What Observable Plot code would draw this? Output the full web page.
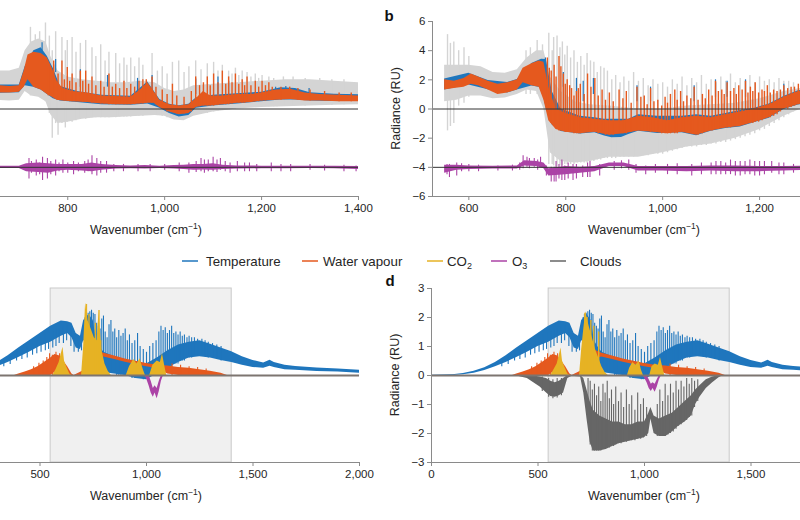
<!DOCTYPE html>
<html>
<head>
<meta charset="utf-8">
<script src="https://cdn.jsdelivr.net/npm/d3@7"></script>
<script src="https://cdn.jsdelivr.net/npm/@observablehq/plot@0.6"></script>
<style>
  html, body { margin: 0; padding: 0; background: #fff; overflow: hidden; }
  #root { position: relative; width: 800px; height: 520px; overflow: hidden; font-family: "Liberation Sans", Arial, sans-serif; }
  .panel { position: absolute; }
  .panel svg { max-width: none !important; background: transparent !important; overflow: visible; }
  g[aria-label$="axis tick"] { stroke: #8a8a8a; }
  .tick line { stroke: #8a8a8a; }
</style>
</head>
<body>
<div id="root"></div>
<script>
// ===================== DATA =====================
// Panels a & b : radiance difference spectra (RU)
const xTicksA = [800, 1000, 1200, 1400];
const xTicksB = [600, 800, 1000, 1200];
const yTicksAB = [-6, -4, -2, 0, 2, 4, 6];
const xDomainAB = [525, 1400];
const yDomainAB = [-6, 6];
const refLinesAB = [0, -4];

// [wavenumber, low, high]
const aSpread = [[655,0.6,2.6],[680,0.55,2.6],[700,0.6,2.8],[712,1.2,4.0],[725,0.9,4.6],[740,0.8,4.8],[755,0.5,4.6],[765,-0.4,3.6],[780,-1.0,2.6],[800,-0.9,2.2],[830,-0.7,2.0],[860,-0.6,1.9],[890,-0.6,1.8],[920,-0.55,1.8],[950,-0.5,1.9],[980,-0.45,1.8],[1000,-0.5,1.4],[1020,-0.75,1.2],[1040,-0.8,1.3],[1060,-0.5,1.6],[1100,-0.2,1.7],[1150,0.0,1.8],[1200,0.1,1.9],[1250,0.15,2.0],[1300,0.2,2.0],[1350,0.25,1.9],[1400,0.3,1.8]];
const aSpreadSpikes = [[723,0.9,5.6],[733,0.9,5.1],[742,0.8,5.3],[754,0.5,5.9],[762,-0.3,5.0],[768,-2.0,4.0],[775,-1.0,5.3],[780,-1.8,2.0],[788,-1.0,4.9],[795,-1.3,4.0],[799,-0.9,4.7],[809,-0.9,4.9],[817,-0.8,3.9],[826,-0.7,4.5],[837,-0.7,4.7],[850,-0.6,4.2],[858,-0.6,3.6],[868,-0.6,4.4],[877,-0.6,3.3],[885,-0.6,3.9],[899,-0.6,3.8],[907,-0.55,3.1],[916,-0.55,3.5],[922,-0.55,3.0],[930,-0.55,3.5],[938,-0.5,2.9],[947,-0.5,3.5],[955,-0.5,3.0],[974,-0.45,3.8],[985,-0.45,2.6],[995,-0.5,2.9],[1005,-0.6,2.4],[1016,-0.7,3.2],[1029,-0.7,3.3],[1040,-0.7,2.5],[1050,-0.6,2.9],[1064,-0.4,3.3],[1075,-0.35,2.7],[1088,-0.3,3.1],[1101,-0.2,3.2],[1110,-0.15,2.6],[1119,-0.1,3.0],[1132,0.0,2.6],[1139,0.0,2.4],[1146,0.0,2.8],[1153,0.05,2.3],[1160,0.1,2.6],[1170,0.1,2.5],[1178,0.1,2.2],[1187,0.15,2.4],[1194,0.15,2.1],[1201,0.15,2.3],[1215,0.15,2.2],[1225,0.15,2.1],[1232,0.15,1.9],[1245,0.2,2.2],[1265,0.2,2.2],[1290,0.2,2.1],[1320,0.25,2.1],[1345,0.25,2.0],[1370,0.3,2.0]];
const aTemp = [[655,1.08,1.65],[700,1.12,1.65],[712,1.6,2.9],[730,1.5,4.0],[745,1.3,4.2],[758,1.0,3.6],[770,0.7,2.8],[785,0.55,1.55],[820,0.45,1.2],[870,0.3,0.95],[930,0.25,0.88],[965,0.35,1.85],[990,0.05,0.65],[1010,-0.3,0.32],[1030,-0.55,0.22],[1050,-0.45,0.32],[1065,0.05,0.75],[1100,0.2,0.95],[1150,0.35,1.05],[1200,0.5,1.15],[1240,0.62,1.45],[1270,0.62,1.4],[1300,0.55,1.12],[1350,0.52,1.02],[1400,0.52,0.97]];
const aTempSpikes = [[747,3.5,4.55],[775,2.5,3.4],[826,1.5,2.7],[882,1.5,2.3],[944,1.0,2.1],[974,1.0,2.3],[1064,1.0,2.05],[1110,1.0,2.2],[1132,1.0,1.9],[1229,1.0,1.5],[1250,1.0,1.55],[1298,1.0,1.4]];
const aWater = [[655,1.1,1.6],[680,1.1,1.55],[700,1.15,1.6],[710,1.5,2.6],[718,2.0,3.7],[730,1.5,3.9],[745,1.3,3.8],[758,1.0,3.5],[768,0.8,2.8],[778,0.6,1.9],[790,0.55,1.4],[810,0.5,1.2],[840,0.45,1.1],[870,0.35,0.9],[900,0.3,0.85],[930,0.3,0.8],[950,0.35,1.3],[965,0.4,1.8],[978,0.4,1.2],[990,0.1,0.6],[1010,-0.2,0.3],[1030,-0.4,0.2],[1050,-0.3,0.3],[1065,0.1,0.7],[1080,0.2,1.2],[1095,0.2,0.9],[1120,0.3,0.9],[1150,0.4,1.0],[1180,0.45,1.0],[1200,0.55,1.1],[1230,0.6,1.3],[1260,0.65,1.35],[1290,0.55,1.1],[1320,0.55,1.0],[1360,0.5,0.95],[1400,0.5,0.9]];
const aWaterSpikes = [[760,0.9,3.0],[771,0.8,3.3],[780,0.6,2.4],[788,0.6,3.3],[793,0.55,2.0],[799,0.55,2.85],[804,0.5,1.9],[809,0.5,2.4],[817,0.5,1.8],[826,0.5,2.6],[831,0.45,1.9],[837,0.45,2.6],[843,0.45,1.7],[850,0.4,2.2],[858,0.4,1.6],[868,0.35,1.9],[875,0.35,1.5],[885,0.3,2.4],[892,0.3,1.5],[899,0.3,1.7],[907,0.3,1.4],[916,0.3,1.9],[922,0.3,1.4],[930,0.3,1.7],[938,0.3,1.5],[947,0.35,1.9],[955,0.35,2.0],[962,0.4,2.0],[974,0.4,2.2],[982,0.3,1.5],[995,0.0,1.3],[1005,-0.2,1.0],[1016,-0.2,1.7],[1025,-0.35,0.9],[1040,-0.35,0.8],[1055,-0.2,1.2],[1064,0.1,2.2],[1072,0.15,1.6],[1080,0.2,1.8],[1088,0.2,2.2],[1094,0.2,1.6],[1101,0.2,2.4],[1110,0.25,1.8],[1119,0.3,2.6],[1126,0.3,1.7],[1132,0.3,2.2],[1139,0.35,1.8],[1146,0.4,2.4],[1153,0.4,1.7],[1160,0.4,2.0],[1165,0.4,1.6],[1170,0.45,2.2],[1178,0.45,1.6],[1187,0.5,1.9],[1194,0.5,1.5],[1201,0.55,1.9],[1208,0.55,1.6],[1215,0.6,1.8],[1222,0.6,1.5],[1240,0.6,1.5],[1258,0.65,1.5],[1275,0.6,1.4],[1300,0.55,1.3],[1330,0.55,1.2],[1360,0.5,1.1],[1385,0.5,1.1]];
const aO3 = [[655,-4.08,-3.92],[700,-4.08,-3.92],[715,-4.3,-3.75],[740,-4.35,-3.7],[760,-4.4,-3.75],[780,-4.25,-3.8],[800,-4.2,-3.8],[830,-4.25,-3.8],[850,-4.3,-3.7],[870,-4.2,-3.8],[900,-4.12,-3.88],[930,-4.1,-3.9],[960,-4.12,-3.88],[990,-4.08,-3.92],[1020,-4.12,-3.88],[1040,-4.15,-3.85],[1060,-4.2,-3.8],[1080,-4.18,-3.8],[1100,-4.2,-3.75],[1120,-4.15,-3.85],[1150,-4.12,-3.9],[1200,-4.1,-3.92],[1250,-4.1,-3.92],[1300,-4.08,-3.92],[1350,-4.1,-3.92],[1400,-4.15,-3.95]];
const aO3Spikes = [[720,-4.8,-3.4],[725,-4.4,-3.6],[735,-4.6,-3.5],[742,-4.5,-3.7],[748,-4.9,-3.3],[758,-4.8,-3.4],[765,-4.5,-3.6],[775,-4.6,-3.5],[782,-4.3,-3.7],[790,-4.4,-3.5],[800,-4.4,-3.7],[812,-4.5,-3.6],[822,-4.3,-3.7],[835,-4.4,-3.6],[842,-4.3,-3.5],[850,-4.5,-3.2],[860,-4.6,-3.4],[868,-4.4,-3.6],[880,-4.4,-3.6],[895,-4.3,-3.8],[915,-4.3,-3.8],[945,-4.3,-3.8],[970,-4.3,-3.8],[1000,-4.2,-3.8],[1030,-4.3,-3.7],[1050,-4.4,-3.7],[1065,-4.35,-3.6],[1075,-4.3,-3.4],[1082,-4.4,-3.5],[1090,-4.3,-3.5],[1100,-4.3,-3.3],[1108,-4.35,-3.5],[1115,-4.2,-3.4],[1125,-4.3,-3.6],[1135,-4.4,-3.7],[1150,-4.3,-3.6],[1165,-4.3,-3.7],[1175,-4.3,-3.7],[1190,-4.3,-3.8],[1220,-4.3,-3.7],[1240,-4.3,-3.8],[1260,-4.3,-3.8],[1300,-4.2,-3.8],[1330,-4.25,-3.85],[1370,-4.3,-3.85],[1395,-4.3,-3.9]];

const bSpread = [[550,0.5,3.0],[575,0.6,3.0],[600,0.9,3.0],[625,0.9,2.9],[650,0.7,2.5],[675,0.75,2.45],[700,1.0,2.7],[720,1.3,3.5],[740,1.2,4.0],[755,0.0,4.0],[768,-3.0,2.2],[790,-3.6,1.2],[820,-3.7,0.5],[850,-3.6,0.3],[890,-3.3,0.2],[950,-3.3,0.0],[1000,-3.0,0.0],[1050,-2.6,0.2],[1100,-2.4,0.3],[1150,-2.0,0.4],[1200,-1.4,0.7],[1250,-0.5,1.2],[1300,0.2,1.5],[1350,0.3,1.6],[1400,0.3,1.6]];
const bSpreadSpikes = [[556,-1.5,5.1],[562,-1.2,4.5],[569,-1.0,4.6],[579,0.2,4.0],[590,0.4,4.2],[600,0.8,3.6],[718,1.0,4.0],[727,1.0,4.2],[741,1.0,4.7],[752,0.5,4.4],[765,-3.8,5.2],[772,-3.8,4.0],[775,-3.9,4.9],[782,-4.0,5.0],[788,-3.9,4.2],[793,-3.9,4.6],[798,-3.8,3.7],[803,-3.8,4.3],[810,-3.8,3.5],[817,-3.8,4.0],[824,-3.7,3.2],[831,-3.7,3.6],[838,-3.7,3.0],[844,-3.7,3.8],[851,-3.6,3.3],[858,-3.6,3.2],[865,-3.5,2.5],[872,-3.5,2.9],[879,-3.4,2.8],[886,-3.4,2.6],[895,-3.4,2.0],[903,-3.4,2.3],[912,-3.3,1.8],[920,-3.3,2.2],[930,-3.3,1.9],[940,-3.3,2.5],[950,-3.2,1.9],[960,-3.2,2.1],[970,-3.2,1.6],[980,-3.1,2.0],[990,-3.1,1.7],[1000,-3.1,1.8],[1010,-3.0,1.5],[1020,-2.9,2.0],[1030,-2.8,1.7],[1040,-2.7,2.2],[1050,-2.6,1.6],[1060,-2.6,2.1],[1070,-2.6,1.8],[1080,-2.5,2.3],[1090,-2.5,1.7],[1100,-2.4,2.0],[1110,-2.4,1.8],[1120,-2.3,2.2],[1130,-2.3,1.9],[1140,-2.2,2.4],[1150,-2.1,1.8],[1160,-2.0,2.1],[1170,-1.9,1.9],[1180,-1.8,2.3],[1190,-1.7,1.8],[1200,-1.5,2.2],[1210,-1.4,1.9],[1220,-1.2,2.0],[1230,-1.0,1.8],[1240,-0.8,2.1],[1250,-0.6,1.9],[1260,-0.4,1.9],[1270,-0.2,1.8],[1285,0.0,2.0]];
const bTemp = [[550,1.3,2.05],[600,1.65,2.45],[640,1.32,1.95],[680,1.1,1.82],[700,1.3,2.02],[730,1.58,3.12],[750,1.45,3.42],[760,0.0,3.4],[772,-1.1,1.2],[790,-1.55,0.0],[830,-1.72,-0.5],[860,-1.63,-0.6],[880,-1.85,-0.7],[895,-1.97,-0.7],[915,-1.95,-0.7],[930,-1.75,-0.7],[950,-1.53,-0.4],[990,-1.68,-0.5],[1040,-1.63,-0.5],[1070,-1.83,-0.4],[1100,-1.53,-0.5],[1130,-1.33,-0.3],[1160,-1.23,-0.1],[1190,-0.93,0.05],[1220,-0.63,0.35],[1250,-0.03,0.85],[1280,0.27,1.25],[1300,0.37,1.35],[1400,0.47,1.35]];
const bTempSpikes = [[758,2.0,3.5],[795,1.5,2.5],[822,0.5,2.1],[836,0.5,1.9],[857,1.0,2.1],[947,0.5,1.6],[975,0.5,1.5],[1065,0.5,1.6],[1109,0.8,2.0],[1133,0.8,1.9],[1171,0.8,2.0],[1250,0.5,1.7]];
const bWater = [[550,1.3,2.0],[570,1.4,1.9],[590,1.5,2.1],[605,1.7,2.4],[620,1.6,2.2],[640,1.3,1.9],[660,1.0,1.7],[680,1.1,1.8],[700,1.3,2.0],[712,1.8,2.8],[730,1.6,3.1],[745,1.5,3.3],[755,0.6,3.2],[765,-0.8,1.5],[780,-1.4,0.0],[800,-1.6,-0.3],[830,-1.7,-0.6],[860,-1.6,-0.7],[890,-1.8,-0.8],[920,-1.7,-0.8],[950,-1.5,-0.5],[980,-1.6,-0.6],[1010,-1.7,-0.8],[1040,-1.6,-0.6],[1070,-1.8,-0.5],[1100,-1.5,-0.6],[1130,-1.3,-0.4],[1160,-1.2,-0.2],[1190,-0.9,0.0],[1220,-0.6,0.3],[1250,0.0,0.8],[1280,0.3,1.2],[1300,0.4,1.3],[1400,0.5,1.3]];
const bWaterSpikes = [[762,0.0,3.5],[766,-0.5,2.8],[770,-1.0,2.6],[776,-1.2,3.0],[780,-1.3,2.2],[786,-1.5,3.6],[790,-1.5,2.9],[795,-1.5,2.4],[799,-1.6,1.7],[803,-1.6,2.0],[808,-1.6,1.6],[812,-1.6,1.4],[817,-1.7,0.9],[822,-1.7,1.2],[826,-1.7,1.4],[830,-1.7,1.7],[838,-1.6,1.0],[845,-1.6,2.4],[852,-1.6,1.5],[860,-1.6,2.1],[867,-1.7,0.9],[875,-1.7,1.3],[882,-1.8,0.6],[890,-1.8,1.1],[898,-1.8,0.5],[910,-1.7,1.3],[918,-1.7,0.7],[925,-1.7,1.2],[935,-1.6,0.4],[947,-1.5,1.5],[955,-1.5,0.8],[962,-1.5,0.9],[968,-1.5,0.3],[975,-1.6,1.4],[982,-1.6,0.5],[990,-1.6,0.6],[998,-1.7,0.2],[1005,-1.7,0.8],[1010,-1.7,0.4],[1016,-1.7,1.0],[1025,-1.7,1.3],[1030,-1.7,0.6],[1037,-1.6,1.2],[1043,-1.6,0.5],[1050,-1.6,0.9],[1058,-1.7,0.7],[1065,-1.7,1.5],[1073,-1.8,0.6],[1082,-1.7,1.0],[1088,-1.6,0.7],[1095,-1.5,1.3],[1102,-1.5,0.9],[1109,-1.4,1.9],[1115,-1.4,1.2],[1122,-1.3,1.3],[1127,-1.3,1.0],[1133,-1.3,1.8],[1140,-1.3,1.2],[1147,-1.2,1.4],[1152,-1.2,1.0],[1157,-1.2,1.6],[1164,-1.1,1.3],[1171,-1.0,1.9],[1176,-1.0,1.1],[1181,-1.0,1.5],[1186,-1.0,1.2],[1191,-0.9,1.8],[1198,-0.9,1.1],[1205,-0.8,1.3],[1210,-0.7,1.2],[1216,-0.6,1.6],[1222,-0.6,1.1],[1229,-0.5,1.3],[1236,-0.4,1.2],[1243,-0.2,1.3],[1250,0.0,1.6],[1258,0.0,1.4],[1265,0.1,1.5],[1272,0.2,1.5],[1280,0.3,1.7],[1290,0.3,1.6]];
const bO3 = [[550,-4.4,-3.85],[575,-4.2,-3.85],[600,-4.15,-3.9],[650,-4.12,-3.92],[700,-4.12,-3.9],[715,-3.9,-3.55],[740,-3.95,-3.6],[755,-4.1,-3.7],[765,-4.6,-4.1],[800,-4.5,-3.95],[830,-4.4,-4.0],[860,-4.3,-3.95],[890,-3.95,-3.7],[920,-3.95,-3.7],[950,-4.25,-3.95],[1000,-4.25,-3.95],[1050,-4.3,-3.95],[1100,-4.25,-3.9],[1150,-4.3,-3.9],[1200,-4.3,-3.95],[1250,-4.25,-3.95],[1300,-4.2,-3.92],[1400,-4.2,-3.92]];
const bO3Spikes = [[555,-4.5,-3.8],[560,-4.7,-3.8],[575,-4.6,-3.7],[585,-4.3,-3.75],[600,-4.3,-3.8],[620,-4.3,-3.85],[660,-4.25,-3.9],[690,-4.25,-3.85],[705,-4.2,-3.7],[712,-4.1,-3.2],[720,-4.0,-3.3],[725,-4.1,-3.4],[735,-4.0,-3.4],[742,-4.2,-3.5],[748,-4.0,-3.3],[760,-4.6,-3.9],[770,-5.0,-4.0],[776,-5.0,-4.0],[780,-5.0,-3.6],[786,-4.8,-3.8],[792,-4.9,-3.5],[798,-4.9,-3.9],[805,-4.8,-3.7],[815,-4.9,-3.8],[822,-4.8,-3.8],[835,-4.7,-3.9],[845,-4.7,-3.7],[850,-4.7,-3.6],[870,-4.6,-3.8],[900,-4.2,-3.6],[915,-4.1,-3.55],[930,-4.2,-3.5],[945,-4.4,-3.8],[965,-4.5,-3.9],[985,-4.4,-3.8],[1010,-4.5,-3.8],[1030,-4.5,-3.75],[1060,-4.6,-3.8],[1080,-4.5,-3.7],[1100,-4.5,-3.7],[1110,-4.5,-3.6],[1120,-4.5,-3.6],[1130,-4.5,-3.7],[1140,-4.5,-3.5],[1150,-4.6,-3.6],[1160,-4.6,-3.6],[1170,-4.5,-3.6],[1180,-4.5,-3.5],[1190,-4.6,-3.6],[1200,-4.6,-3.6],[1210,-4.5,-3.6],[1225,-4.4,-3.6],[1240,-4.5,-3.7],[1250,-4.5,-3.7],[1270,-4.4,-3.8],[1290,-4.4,-3.8]];

// Panels c & d : contributions to radiance (RU)
const xTicksC = [500, 1000, 1500, 2000];
const xTicksD = [0, 500, 1000, 1500];
const yTicksCD = [-3, -2, -1, 0, 1, 2, 3];
const xDomainCD = [0, 2000];
const yDomainCD = [-3, 3];
const shadeRegion = [[550, 1400]];
const zeroLineCD = [0];

const cdTemp = [[0,0,0.005],[100,0.0,0.03],[150,0.03,0.07],[200,0.08,0.15],[250,0.17,0.27],[300,0.3,0.45],[350,0.45,0.68],[400,0.62,0.95],[450,0.8,1.2],[500,1.0,1.45],[550,1.15,1.7],[600,1.35,1.88],[630,1.45,1.85],[650,1.3,1.8],[670,0.95,1.45],[690,0.9,1.35],[705,1.2,1.9],[730,1.1,2.1],[750,0.6,1.9],[765,0.2,1.2],[780,0.15,1.0],[800,0.1,0.8],[850,0.05,0.65],[900,0.0,0.55],[950,-0.1,0.45],[1000,-0.15,0.4],[1050,0.05,0.6],[1100,0.25,0.85],[1150,0.45,1.05],[1200,0.6,1.15],[1250,0.65,1.2],[1300,0.6,1.08],[1350,0.52,0.95],[1400,0.45,0.82],[1450,0.35,0.65],[1500,0.28,0.52],[1550,0.25,0.43],[1580,0.32,0.53],[1600,0.28,0.45],[1650,0.2,0.35],[1700,0.18,0.31],[1800,0.14,0.26],[1900,0.12,0.22],[2000,0.08,0.18]];
const cdTempSpikes = [[330,0.3,0.5],[360,0.38,0.65],[390,0.5,0.8],[415,0.55,0.9],[440,0.6,1.0],[465,0.7,1.1],[485,0.75,1.2],[505,0.8,1.3],[525,0.85,1.4],[540,0.9,1.5],[560,0.95,1.5],[575,1.0,1.6],[590,1.1,1.6],[610,1.1,1.7],[625,1.2,1.7],[645,1.0,1.6],[660,0.8,1.3],[680,0.8,1.2],[695,0.85,1.3],[712,1.2,2.0],[718,1.0,2.1],[726,1.1,2.15],[734,1.0,2.2],[742,0.8,2.25],[750,0.6,2.15],[758,0.4,2.1],[766,0.3,1.8],[774,0.2,1.7],[782,0.2,1.6],[790,0.2,1.95],[798,0.2,2.05],[806,0.2,1.5],[815,0.1,1.3],[824,0.1,1.75],[833,0.1,1.9],[842,0.1,1.5],[851,0.1,1.6],[860,0.0,1.3],[870,0.0,1.55],[880,0.0,1.35],[890,0.0,1.45],[900,0.0,1.6],[910,0.0,1.2],[920,0.0,1.4],[932,-0.1,1.1],[945,-0.1,1.2],[958,-0.1,1.45],[970,-0.1,1.0],[985,-0.15,0.9],[1000,-0.1,0.8],[1015,0.0,1.0],[1030,0.0,1.1],[1045,0.1,1.2],[1058,0.1,1.5],[1068,0.2,1.7],[1078,0.2,1.55],[1088,0.2,1.65],[1098,0.3,1.45],[1108,0.3,1.55],[1118,0.3,1.7],[1128,0.4,1.45],[1138,0.4,1.5],[1148,0.4,1.4],[1158,0.5,1.5],[1168,0.5,1.35],[1178,0.5,1.4],[1190,0.6,1.3],[1200,0.6,1.35],[1212,0.6,1.3],[1225,0.7,1.3],[1240,0.7,1.25],[1260,0.7,1.25],[1275,0.65,1.2],[1290,0.6,1.15],[1310,0.6,1.1],[1330,0.55,1.05],[1350,0.5,1.0]];
const cdWater = [[380,0,0],[400,0,0.05],[430,0,0.12],[460,0,0.2],[490,0,0.3],[520,0,0.45],[550,0,0.6],[570,0.1,0.72],[590,0.1,0.68],[610,0,0.5],[630,0,0.3],[650,0,0.05],[660,0,0],[700,0,0.15],[740,0.2,0.7],[770,0.58,0.86],[800,0.64,0.77],[850,0.55,0.67],[900,0.46,0.57],[950,0.38,0.49],[1000,0.3,0.41],[1050,0.24,0.35],[1100,0.05,0.33],[1150,0,0.28],[1200,0,0.25],[1250,0,0.2],[1300,0,0.15],[1350,0,0.08],[1380,0,0]];
const cdWaterSpikes = [[470,0,0.3],[495,0,0.42],[515,0,0.5],[532,0,0.62],[545,0,0.75],[558,0,0.7],[575,0,0.8],[592,0,0.75],[1120,0,0.4],[1160,0,0.35],[1200,0,0.3],[1240,0,0.28],[1280,0,0.22]];
const cCO2 = [[560,0,0],[575,0,0.2],[590,0,0.45],[600,0,0.75],[608,0,0.97],[615,0,0.5],[625,0,0.3],[640,0,0.05],[650,0,0],[695,0,0],[705,0,1.0],[714,0,2.5],[725,0,1.9],[740,0,1.6],[755,0,1.3],[768,0,1.2],[777,0,2.2],[790,0,0.9],[805,0,0.4],[820,0,0.15],[835,0,0],[905,0,0],[920,0,0.3],[940,0,0.55],[955,0,0.4],[970,0,0.58],[985,0,0.2],[995,0,0],[1015,0,0],[1030,0,0.35],[1050,0,0.5],[1065,0,0.45],[1075,0,0.75],[1085,0,0.35],[1095,0,0]];
const dCO2 = [[560,0,0],[575,0,0.2],[590,0,0.4],[600,0,0.7],[608,0,0.95],[615,0,0.5],[625,0,0.3],[640,0,0.05],[650,0,0],[695,0,0],[705,0,0.9],[715,0,1.6],[724,0,2.2],[740,0,1.7],[755,0,1.3],[770,0,0.9],[785,0,0.6],[800,0,0.3],[815,0,0.1],[830,0,0],[920,0,0],[930,0,0.25],[945,0,0.45],[960,0,0.35],[975,0,0.5],[985,0,0.2],[995,0,0],[1025,0,0],[1035,0,0.3],[1050,0,0.4],[1065,0,0.35],[1075,0,0.62],[1085,0,0.3],[1095,0,0]];
const cCO2Spikes = [[718,0,2.45],[730,0,2.1],[760,0,1.8],[777,0,2.24],[785,0,1.2]];
const dCO2Spikes = [[720,0,2.15],[730,0,2.0],[748,0,1.9],[762,0,1.7],[785,0,1.5]];
const cO3 = [[990,0,0],[1000,-0.1,0],[1012,-0.35,0],[1022,-0.6,-0.2],[1032,-0.75,-0.45],[1040,-0.6,-0.35],[1050,-0.8,-0.45],[1060,-0.55,-0.2],[1070,-0.2,0],[1080,0,0]];
const dO3 = [[990,0,0],[1000,-0.08,0],[1012,-0.25,0],[1022,-0.45,-0.15],[1032,-0.55,-0.3],[1040,-0.45,-0.25],[1050,-0.58,-0.3],[1060,-0.4,-0.15],[1070,-0.15,0],[1080,0,0]];
const dClouds = [[400,-0.02,0],[450,-0.1,0],[480,-0.25,-0.02],[510,-0.4,-0.05],[540,-0.6,-0.1],[560,-0.72,-0.2],[580,-0.75,-0.25],[600,-0.7,-0.2],[620,-0.6,-0.1],[640,-0.1,0],[660,-0.03,0],[700,-0.05,0],[715,-0.6,-0.1],[730,-1.5,-0.5],[745,-2.3,-0.9],[760,-2.6,-1.2],[790,-2.6,-1.4],[820,-2.55,-1.5],[850,-2.45,-1.6],[880,-2.35,-1.6],[910,-2.3,-1.7],[940,-2.25,-1.7],[970,-2.2,-1.6],[1000,-2.15,-1.6],[1020,-2.0,-1.3],[1030,-1.5,-1.1],[1045,-2.0,-1.4],[1070,-2.1,-1.5],[1100,-2.1,-1.4],[1130,-1.95,-1.3],[1160,-1.75,-1.1],[1190,-1.6,-0.9],[1220,-1.4,-0.7],[1240,-1.0,-0.5],[1260,-0.75,-0.35],[1290,-0.45,-0.15],[1320,-0.25,-0.05],[1350,-0.08,0],[1370,0,0]];
const dCloudSpikes = [[520,-0.55,-0.05],[550,-0.75,-0.1],[570,-0.8,-0.15],[590,-0.78,-0.1],[610,-0.7,-0.1],[735,-1.6,-0.1],[745,-2.4,-0.2],[755,-2.6,-0.5],[765,-2.6,-0.3],[775,-2.6,-0.7],[785,-2.6,-0.4],[795,-2.6,-0.9],[805,-2.55,-0.3],[815,-2.55,-0.6],[825,-2.5,-0.2],[835,-2.5,-0.8],[845,-2.45,-0.5],[855,-2.45,-1.0],[865,-2.4,-0.4],[878,-2.35,-0.9],[890,-2.35,-0.6],[902,-2.3,-1.1],[915,-2.3,-0.5],[928,-2.25,-1.0],[940,-2.25,-0.7],[955,-2.25,-1.2],[968,-2.2,-0.6],[982,-2.2,-1.0],[995,-2.15,-0.8],[1010,-2.1,-1.1],[1060,-2.1,-1.0],[1072,-2.1,-0.5],[1085,-2.1,-0.9],[1097,-2.1,-0.3],[1110,-2.05,-0.7],[1122,-2.0,-0.3],[1135,-1.95,-0.6],[1148,-1.85,-0.2],[1160,-1.75,-0.5],[1172,-1.7,-0.2],[1185,-1.6,-0.4],[1198,-1.55,-0.1],[1210,-1.45,-0.3],[1222,-1.4,-0.1],[1235,-1.1,-0.2],[1250,-0.9,-0.15]];

// Legend
const seriesNames = ["Temperature", "Water vapour", "CO2", "O3", "Clouds"];

// ===================== STYLE =====================
const C = { temp: "#1f76bd", water: "#e5591e", co2: "#e6b224", o3: "#ab43a6", clouds: "#666666", spread: "#d4d4d4", axis: "#8a8a8a", ref: "#333333", zero: "#7d7570", shade: "#f0f0f0", shadeStroke: "#c9c9c9" };
const FONT = "'Liberation Sans', Arial, sans-serif";

const band = (data, fill) => Plot.areaY(data, {x: d => d[0], y1: d => d[1], y2: d => d[2], fill});
const spikes = (data, stroke, w = 1.1) => Plot.ruleX(data, {x: d => d[0], y1: d => d[1], y2: d => d[2], stroke, strokeWidth: w});

const root = document.getElementById("root");

function makePanel({frameLeft, frameTop, frameW, frameH, xDomain, yDomain, xTicks, yTicks, marks, showY, letter, letterX, letterY}) {
  const ml = 60, mr = 10, mt = 20, mb = 46;
  const svg = Plot.plot({
    width: ml + frameW + mr,
    height: mt + frameH + mb,
    marginLeft: ml, marginRight: mr, marginTop: mt, marginBottom: mb,
    style: {fontFamily: FONT, fontSize: "11.5px", color: "#262626", background: "transparent", maxWidth: "none", overflow: "visible"},
    x: {domain: xDomain, ticks: xTicks, tickFormat: d3.format(","), tickSize: 4, tickPadding: 3, label: null},
    y: showY
      ? {domain: yDomain, ticks: yTicks, tickFormat: d3.format("d"), tickSize: 4, tickPadding: 3, label: null}
      : {domain: yDomain, axis: null},
    marks: [
      ...marks,
      Plot.ruleY([yDomain[0]], {stroke: C.axis, strokeWidth: 1}),
      Plot.ruleX([xDomain[0]], {stroke: C.axis, strokeWidth: 1})
    ]
  });
  const s = d3.select(svg);
  const xt = s.append("text")
    .attr("x", ml + frameW / 2).attr("y", mt + frameH + 38)
    .attr("text-anchor", "middle").attr("font-family", FONT).attr("font-size", "12.5px").attr("fill", "#262626");
  xt.append("tspan").text("Wavenumber (cm");
  xt.append("tspan").attr("font-size", "8.5px").attr("dy", -5).text("\u22121");
  xt.append("tspan").attr("dy", 5).text(")");
  if (showY) {
    s.append("text")
      .attr("transform", `translate(${ml - 36},${mt + frameH / 2}) rotate(-90)`)
      .attr("text-anchor", "middle").attr("dy", "0.35em")
      .attr("font-family", FONT).attr("font-size", "12.5px").attr("fill", "#262626")
      .text("Radiance (RU)");
  }
  if (letter) {
    s.append("text").attr("x", letterX - (frameLeft - ml)).attr("y", letterY - (frameTop - mt))
      .attr("font-family", FONT).attr("font-size", "15px").attr("font-weight", "bold").attr("fill", "#111")
      .text(letter);
  }
  const div = document.createElement("div");
  div.className = "panel";
  div.style.left = (frameLeft - ml) + "px";
  div.style.top = (frameTop - mt) + "px";
  div.style.width = (ml + frameW + mr) + "px";
  div.appendChild(svg);
  root.appendChild(div);
}

function abMarks(spread, spreadSpikes, temp, tempSpikes, water, waterSpikes, o3, o3Spikes) {
  return [
    band(spread, C.spread),
    spikes(spreadSpikes, C.spread, 1.4),
    band(temp, C.temp),
    spikes(tempSpikes, C.temp, 1.2),
    band(water, C.water),
    spikes(waterSpikes, C.water, 1.4),
    band(o3, C.o3),
    spikes(o3Spikes, C.o3, 1.1),
    Plot.ruleY(refLinesAB, {stroke: C.ref, strokeWidth: 1})
  ];
}

function cdMarks(co2, co2Spikes, o3, withClouds) {
  const m = [
    Plot.rect(shadeRegion, {x1: d => d[0], x2: d => d[1], y1: yDomainCD[0], y2: yDomainCD[1], fill: C.shade, stroke: C.shadeStroke, strokeWidth: 1}),
    band(cdTemp, C.temp),
    spikes(cdTempSpikes, C.temp, 1.1),
    band(cdWater, C.water),
    spikes(cdWaterSpikes, C.water, 1.1),
    band(co2, C.co2),
    spikes(co2Spikes, C.co2, 1.4),
    band(o3, C.o3)
  ];
  if (withClouds) {
    m.push(band(dClouds, C.clouds));
    m.push(spikes(dCloudSpikes, C.clouds, 1.1));
  }
  m.push(Plot.ruleY(zeroLineCD, {stroke: C.zero, strokeWidth: 2}));
  return m;
}

const AB = {frameTop: 21, frameW: 424, frameH: 175, xDomain: xDomainAB, yDomain: yDomainAB, yTicks: yTicksAB};
const CD = {frameTop: 288, frameW: 426, frameH: 174, xDomain: xDomainCD, yDomain: yDomainCD, yTicks: yTicksCD};

makePanel({...AB, frameLeft: -66, xTicks: xTicksA, showY: false, marks: abMarks(aSpread, aSpreadSpikes, aTemp, aTempSpikes, aWater, aWaterSpikes, aO3, aO3Spikes)});
makePanel({...AB, frameLeft: 432, xTicks: xTicksB, showY: true, marks: abMarks(bSpread, bSpreadSpikes, bTemp, bTempSpikes, bWater, bWaterSpikes, bO3, bO3Spikes), letter: "b", letterX: 389, letterY: 21});
makePanel({...CD, frameLeft: -67, xTicks: xTicksC, showY: false, marks: cdMarks(cCO2, cCO2Spikes, cO3, false)});
makePanel({...CD, frameLeft: 431, xTicks: xTicksD, showY: true, marks: cdMarks(dCO2, dCO2Spikes, dO3, true), letter: "d", letterX: 390, letterY: 286});

// Legend (between the two rows of panels)
const legendColors = [C.temp, C.water, C.co2, C.o3, C.clouds];
const legendLineX = [182, 302, 427, 491, 550];
const legendTextX = [206, 323, 447, 512, 580];
const lg = d3.select(root).append("svg")
  .attr("width", 800).attr("height", 24)
  .style("position", "absolute").style("left", "0px").style("top", "249px").style("overflow", "visible");
seriesNames.forEach((name, i) => {
  lg.append("line").attr("x1", legendLineX[i]).attr("x2", legendLineX[i] + 16)
    .attr("y1", 12).attr("y2", 12).attr("stroke", legendColors[i]).attr("stroke-width", 1.5);
  const t = lg.append("text").attr("x", legendTextX[i]).attr("y", 16.5)
    .attr("font-family", FONT).attr("font-size", "13.3px").attr("fill", "#262626");
  const m = name.match(/^(CO|O)(\d)$/);
  if (m) {
    t.append("tspan").text(m[1]);
    t.append("tspan").attr("font-size", "9px").attr("dy", 3.5).text(m[2]);
  } else {
    t.text(name);
  }
});
</script>
</body>
</html>
